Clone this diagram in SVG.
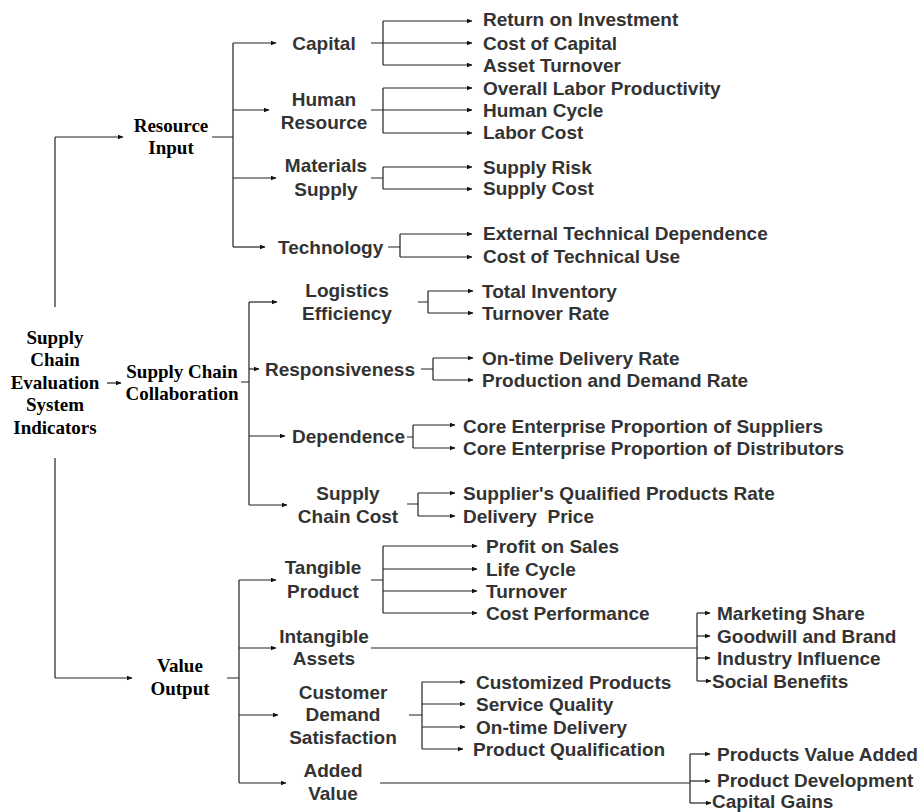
<svg xmlns="http://www.w3.org/2000/svg" width="922" height="812" viewBox="0 0 922 812">
<style>
.s{font-family:"Liberation Sans",Arial,sans-serif;font-weight:bold;font-size:19px;fill:#333}
.m{text-anchor:middle}
.t{font-family:"Liberation Serif","Times New Roman",serif;font-weight:bold;font-size:19px;fill:#000;text-anchor:middle}
.c path{fill:none;stroke:#222;stroke-width:1.2}
.c path.a{marker-end:url(#ah)}
</style>
<defs>
<marker id="ah" markerUnits="userSpaceOnUse" markerWidth="6" markerHeight="5" refX="5.5" refY="2.5" orient="auto">
<path d="M0,0 L6,2.5 L0,5 z" fill="#111"/>
</marker>
</defs>
<rect width="922" height="812" fill="#fff"/>
<g id="connectors" class="c">
<path d="M55,307 V137"/><path class="a" d="M55,137 H123"/>
<path class="a" d="M107,383 H121"/>
<path d="M55,458 V678"/><path class="a" d="M55,678 H132"/>
<path d="M212,137 H233 M233,43 V247"/>
<path class="a" d="M233,43 H276"/><path class="a" d="M233,110 H269"/><path class="a" d="M233,178 H276"/><path class="a" d="M233,247 H265"/>
<path d="M371,43 H383 M383,21 V65"/>
<path class="a" d="M383,21 H472"/><path class="a" d="M383,43 H472"/><path class="a" d="M383,65 H472"/>
<path d="M371,110 H383 M383,88 V133"/>
<path class="a" d="M383,88 H472"/><path class="a" d="M383,110 H472"/><path class="a" d="M383,133 H472"/>
<path d="M371,178 H383 M383,167 V189"/>
<path class="a" d="M383,167 H472"/><path class="a" d="M383,189 H472"/>
<path d="M388,247 H400 M400,234 V257"/>
<path class="a" d="M400,234 H472"/><path class="a" d="M400,257 H472"/>
<path d="M241,382 H249 M249,302 V505"/>
<path class="a" d="M249,302 H277"/><path class="a" d="M249,369 H259"/><path class="a" d="M249,436 H285"/><path class="a" d="M249,505 H287"/>
<path d="M418,302 H428 M428,291 V313"/>
<path class="a" d="M428,291 H473"/><path class="a" d="M428,313 H473"/>
<path d="M421,369 H433 M433,358 V380"/>
<path class="a" d="M433,358 H473"/><path class="a" d="M433,380 H473"/>
<path d="M407,437 H413 M413,425 V448"/>
<path class="a" d="M413,425 H455"/><path class="a" d="M413,448 H455"/>
<path d="M407,504 H418 M418,493 V516"/>
<path class="a" d="M418,493 H455"/><path class="a" d="M418,516 H455"/>
<path d="M227,678 H239 M239,580 V783"/>
<path class="a" d="M239,580 H276"/><path class="a" d="M239,648 H276"/><path class="a" d="M239,715 H278"/><path class="a" d="M239,783 H286"/>
<path d="M371,580 H383 M383,546 V613"/>
<path class="a" d="M383,546 H477"/><path class="a" d="M383,569 H477"/><path class="a" d="M383,591 H477"/><path class="a" d="M383,613 H477"/>
<path d="M371,648 H697 M697,613 V681"/>
<path class="a" d="M697,613 H710"/><path class="a" d="M697,636 H710"/><path class="a" d="M697,658 H710"/><path class="a" d="M697,681 H711"/>
<path d="M409,715 H422 M422,682 V749"/>
<path class="a" d="M422,682 H465"/><path class="a" d="M422,704 H465"/><path class="a" d="M422,727 H465"/><path class="a" d="M422,749 H463"/>
<path d="M380,783 H690 M690,754 V803"/>
<path class="a" d="M690,754 H710"/><path class="a" d="M690,781 H710"/><path class="a" d="M690,803 H711"/>
</g>
<g id="root"><text class="t"><tspan x="55" y="344">Supply</tspan><tspan x="55" y="366">Chain</tspan><tspan x="55" y="389">Evaluation</tspan><tspan x="55" y="411">System</tspan><tspan x="55" y="434">Indicators</tspan></text></g>
<g id="resource-input"><text class="t"><tspan x="171" y="132">Resource</tspan><tspan x="171" y="154">Input</tspan></text></g>
<g id="capital"><text class="s m" x="324" y="50">Capital</text></g>
<g id="human-resource"><text class="s m"><tspan x="324" y="106">Human</tspan><tspan x="324" y="129">Resource</tspan></text></g>
<g id="materials-supply"><text class="s m"><tspan x="326" y="172">Materials</tspan><tspan x="326" y="196">Supply</tspan></text></g>
<g id="technology"><text class="s" x="278" y="254">Technology</text></g>
<g id="capital-children"><text class="s"><tspan x="483" y="26">Return on Investment</tspan><tspan x="483" y="50">Cost of Capital</tspan><tspan x="483" y="72">Asset Turnover</tspan></text></g>
<g id="human-children"><text class="s"><tspan x="483" y="95">Overall Labor Productivity</tspan><tspan x="483" y="117">Human Cycle</tspan><tspan x="483" y="139">Labor Cost</tspan></text></g>
<g id="materials-children"><text class="s"><tspan x="483" y="174">Supply Risk</tspan><tspan x="483" y="195">Supply Cost</tspan></text></g>
<g id="technology-children"><text class="s"><tspan x="483" y="240">External Technical Dependence</tspan><tspan x="483" y="263">Cost of Technical Use</tspan></text></g>
<g id="sc-collaboration"><text class="t"><tspan x="182" y="378">Supply Chain</tspan><tspan x="182" y="400">Collaboration</tspan></text></g>
<g id="logistics"><text class="s m"><tspan x="347" y="297">Logistics</tspan><tspan x="347" y="320">Efficiency</tspan></text></g>
<g id="responsiveness"><text class="s" x="265" y="376">Responsiveness</text></g>
<g id="dependence"><text class="s" x="292" y="443">Dependence</text></g>
<g id="sc-cost"><text class="s m"><tspan x="348" y="500">Supply</tspan><tspan x="348" y="523">Chain Cost</tspan></text></g>
<g id="logistics-children"><text class="s"><tspan x="482" y="298">Total Inventory</tspan><tspan x="482" y="320">Turnover Rate</tspan></text></g>
<g id="responsiveness-children"><text class="s"><tspan x="482" y="365">On-time Delivery Rate</tspan><tspan x="482" y="387">Production and Demand Rate</tspan></text></g>
<g id="dependence-children"><text class="s"><tspan x="463" y="433">Core Enterprise Proportion of Suppliers</tspan><tspan x="463" y="455">Core Enterprise Proportion of Distributors</tspan></text></g>
<g id="sc-cost-children"><text class="s" xml:space="preserve"><tspan x="463" y="500">Supplier's Qualified Products Rate</tspan><tspan x="463" y="523">Delivery  Price</tspan></text></g>
<g id="value-output"><text class="t"><tspan x="180" y="672">Value</tspan><tspan x="180" y="695">Output</tspan></text></g>
<g id="tangible"><text class="s m"><tspan x="323" y="574">Tangible</tspan><tspan x="323" y="598">Product</tspan></text></g>
<g id="intangible"><text class="s m"><tspan x="324" y="643">Intangible</tspan><tspan x="324" y="665">Assets</tspan></text></g>
<g id="customer"><text class="s m"><tspan x="343" y="699">Customer</tspan><tspan x="343" y="721">Demand</tspan><tspan x="343" y="744">Satisfaction</tspan></text></g>
<g id="added-value"><text class="s m"><tspan x="333" y="777">Added</tspan><tspan x="333" y="800">Value</tspan></text></g>
<g id="tangible-children"><text class="s"><tspan x="486" y="553">Profit on Sales</tspan><tspan x="486" y="576">Life Cycle</tspan><tspan x="486" y="598">Turnover</tspan><tspan x="486" y="620">Cost Performance</tspan></text></g>
<g id="intangible-children"><text class="s"><tspan x="717" y="620">Marketing Share</tspan><tspan x="717" y="643">Goodwill and Brand</tspan><tspan x="717" y="665">Industry Influence</tspan><tspan x="712" y="688">Social Benefits</tspan></text></g>
<g id="customer-children"><text class="s"><tspan x="476" y="689">Customized Products</tspan><tspan x="476" y="711">Service Quality</tspan><tspan x="476" y="734">On-time Delivery</tspan><tspan x="473" y="756">Product Qualification</tspan></text></g>
<g id="added-children"><text class="s"><tspan x="717" y="761">Products Value Added</tspan><tspan x="717" y="787">Product Development</tspan><tspan x="712" y="808">Capital Gains</tspan></text></g>
</svg>
